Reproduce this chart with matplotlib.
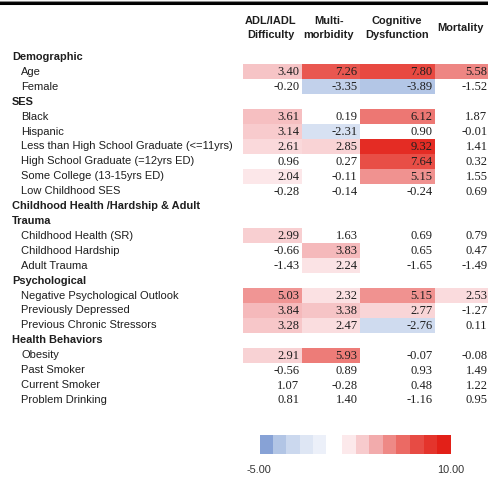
"""
Standardized effects of risk factors on four health outcomes,
drawn as a shaded table with a stepped colour key.
"""

import numpy as np
import matplotlib.pyplot as plt
from matplotlib.colors import LinearSegmentedColormap, Normalize

# Outcome columns
columns = ["ADL/IADL\nDifficulty", "Multi-\nmorbidity", "Cognitive\nDysfunction", "Mortality"]

# Groups of predictors and the rows under each
groups = ["Demographic", "SES", "Childhood Health /Hardship & Adult\nTrauma",
          "Psychological", "Health Behaviors"]
group_items = [
    ["Age", "Female"],
    ["Black", "Hispanic", "Less than High School Graduate (<=11yrs)",
     "High School Graduate (=12yrs ED)", "Some College (13-15yrs ED)",
     "Low Childhood SES"],
    ["Childhood Health (SR)", "Childhood Hardship", "Adult Trauma"],
    ["Negative Psychological Outlook", "Previously Depressed",
     "Previous Chronic Stressors"],
    ["Obesity", "Past Smoker", "Current Smoker", "Problem Drinking"],
]

# Effect sizes, one list per outcome, in predictor order
adl = [3.40, -0.20, 3.61, 3.14, 2.61, 0.96, 2.04, -0.28, 2.99, -0.66, -1.43,
       5.03, 3.84, 3.28, 2.91, -0.56, 1.07, 0.81]
multi = [7.26, -3.35, 0.19, -2.31, 2.85, 0.27, -0.11, -0.14, 1.63, 3.83, 2.24,
         2.32, 3.38, 2.47, 5.93, 0.89, -0.28, 1.40]
cognitive = [7.80, -3.89, 6.12, 0.90, 9.32, 7.64, 5.15, -0.24, 0.69, 0.65, -1.65,
             5.15, 2.77, -2.76, -0.07, 0.93, 0.48, -1.16]
mortality = [5.58, -1.52, 1.87, -0.01, 1.41, 0.32, 1.55, 0.69, 0.79, 0.47, -1.49,
             2.53, -1.27, 0.11, -0.08, 1.49, 1.22, 0.95]

# Colour key range and the levels shown in the key
vmin, vmax = -5.0, 10.0
key_neg = [-5, -4, -3, -2, -1]
key_pos = [2.0, 3.14, 4.29, 5.43, 6.57, 7.71, 8.86, 10.0]
threshold = 1.96   # cells below this (in absolute value) stay white

# ---- layout in pixels ----
W, H = 488, 478
row_top, row_step = 57.0, 14.91
col_edges = np.array([243, 302, 360, 435, 490])
header_x = [271, 329, 397, 460]
label_x, item_x = 12, 21

anchors = [
    (-5.0, (135, 162, 214)),
    (-4.0, (178, 197, 229)),
    (-3.0, (203, 216, 238)),
    (-2.0, (222, 230, 244)),
    (-1.0, (236, 240, 249)),
    (0.0, (255, 255, 255)),
    (2.0, (252, 233, 235)),
    (4.0, (244, 180, 182)),
    (6.0, (237, 122, 118)),
    (8.0, (231, 68, 60)),
    (10.0, (226, 32, 24)),
]
cmap = LinearSegmentedColormap.from_list(
    "effects",
    [((v - vmin) / (vmax - vmin), tuple(c / 255 for c in rgb)) for v, rgb in anchors])
norm = Normalize(vmin, vmax)

sans = "Liberation Sans"
serif = "Liberation Serif"
ink = "#1e1e1e"


def main():
    fig = plt.figure(figsize=(W / 100, H / 100), dpi=100)
    ax = fig.add_axes([0, 0, 1, 1])
    ax.set_xlim(0, W)
    ax.set_ylim(H, 0)
    ax.axis("off")

    # top rule
    ax.axhline(2.5, color="black", lw=2.2)
    ax.axhline(0.5, color="#888888", lw=0.8)

    # build the row slots: group headers (wrapped ones take two slots) then items
    slots = []   # (text, is_header, value_index)
    k = 0
    for g, items in zip(groups, group_items):
        for ln in g.split("\n"):
            slots.append((ln, True, None))
        for it in items:
            slots.append((it, False, k))
            k += 1
    n_rows = len(slots)

    data = np.array([adl, multi, cognitive, mortality]).T
    grid = np.full((n_rows, 4), np.nan)
    for r, (_, is_head, vi) in enumerate(slots):
        if not is_head:
            grid[r] = data[vi]
    shaded = np.ma.masked_where(~(np.abs(grid) >= threshold), grid)

    y_edges = row_top - row_step / 2 + row_step * np.arange(n_rows + 1)
    ax.pcolormesh(col_edges, y_edges, shaded, cmap=cmap, norm=norm,
                  shading="flat", edgecolors="none")

    # row labels and numbers
    for r, (text, is_head, vi) in enumerate(slots):
        y = row_top + r * row_step
        if is_head:
            ax.text(label_x, y, text, ha="left", va="center", fontsize=7.9,
                    fontweight="bold", family=sans, color=ink)
            continue
        ax.text(item_x, y, text, ha="left", va="center", fontsize=8.0,
                family=sans, color=ink)
        for c in range(4):
            ax.text(col_edges[c + 1] - 2.5, y + 0.5, f"{grid[r, c]:.2f}",
                    ha="right", va="center", fontsize=9.0, family=serif,
                    color=ink)

    # column headers
    for x, name in zip(header_x, columns):
        ax.text(x, 28, name, ha="center", va="center", fontsize=7.9,
                fontweight="bold", family=sans, color=ink, linespacing=1.4)

    # stepped colour key
    ax.imshow(np.array([key_neg]), cmap=cmap, norm=norm, aspect="auto",
              extent=(260, 326, 454, 435), interpolation="nearest")
    ax.imshow(np.array([key_pos]), cmap=cmap, norm=norm, aspect="auto",
              extent=(342, 451, 454, 435), interpolation="nearest")
    ax.set_xlim(0, W)
    ax.set_ylim(H, 0)
    ax.text(259, 470, f"{vmin:.2f}", ha="center", va="center", fontsize=7.8,
            family=sans, color="#333333")
    ax.text(451, 470, f"{vmax:.2f}", ha="center", va="center", fontsize=7.8,
            family=sans, color="#333333")

    fig.savefig("out.png", dpi=100)


if __name__ == "__main__":
    main()
